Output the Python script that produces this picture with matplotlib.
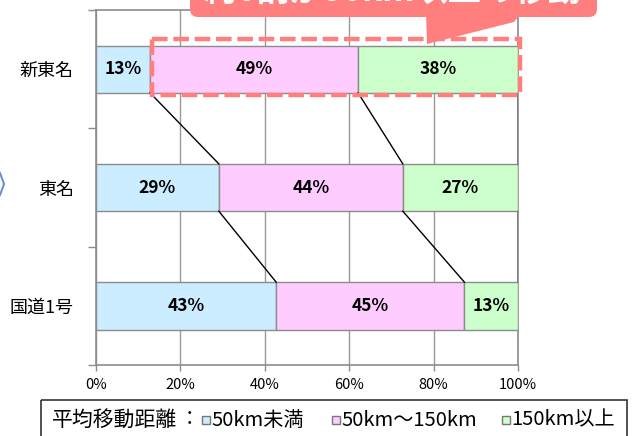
import matplotlib.pyplot as plt
import matplotlib.transforms as mtransforms
from matplotlib.patches import FancyBboxPatch, Polygon, Rectangle
import numpy as np

plt.rcParams['font.family'] = ['Noto Sans CJK JP', 'DejaVu Sans']

# data (bottom to top)
roads = ['国道1号', '東名', '新東名']
under_50 = [42.7, 29.1, 12.8]
mid_50_150 = [44.6, 43.6, 49.3]
over_150 = [12.7, 27.3, 37.9]
series_names = ['50km未満', '50km～150km', '150km以上']
series_colors = ['#CCECFF', '#FFCCFF', '#CCFFCC']
xticks = [0, 20, 40, 60, 80, 100]
legend_title = '平均移動距離'
callout_text = '約6割が50km以上の移動'

W, H = 644, 436
fig = plt.figure(figsize=(W / 100, H / 100), dpi=100)
ax = fig.add_axes([96 / W, 1 - 365 / H, 422 / W, 355 / H])

# pixel transform, origin top-left
pix = mtransforms.Affine2D().scale(1 / 100, -1 / 100).translate(0, H / 100) + fig.dpi_scale_trans

y = np.arange(len(roads))
bar_h = 0.40
left = np.zeros(len(roads))
cum = []
for vals, color in zip([under_50, mid_50_150, over_150], series_colors):
    vals = np.array(vals)
    ax.barh(y, vals, left=left, height=bar_h, color=color,
            edgecolor='#8c8c8c', linewidth=1, zorder=3)
    for yi, (l, v) in enumerate(zip(left, vals)):
        ax.text(l + v / 2, yi, f'{v:.0f}%', ha='center', va='center',
                fontsize=12.5, fontweight='bold', zorder=5)
    left = left + vals
    cum.append(left.copy())

# series lines between bars
for c in cum:
    for i in range(len(roads) - 1):
        ax.plot([c[i + 1], c[i]], [i + 1 - bar_h / 2, i + bar_h / 2],
                color='black', lw=1, zorder=4)

ax.set_xlim(0, 100)
ax.set_ylim(-0.5, len(roads) - 0.5)
ax.set_xticks(xticks)
ax.set_xticklabels([f'{t}%' for t in xticks], fontsize=10.5)
ax.set_yticks(y)
ax.set_yticklabels(roads, fontsize=13)
ax.set_yticks(np.arange(-0.5, len(roads), 1), minor=True)
ax.tick_params(axis='y', which='major', length=0, pad=16)
ax.tick_params(axis='y', which='minor', length=6, color='#8c8c8c', width=1)
ax.tick_params(axis='x', length=4, color='#8c8c8c', width=1, pad=5)
ax.grid(True, axis='x', color='#999999', lw=1, zorder=0)
for s in ax.spines.values():
    s.set_color('#8c8c8c')
    s.set_linewidth(1.2)

# dashed highlight around the >=50km part of 新東名
hl = Rectangle((152, 39), 368, 56, transform=pix, fill=False,
               edgecolor='#FF7F7F', lw=3.2, linestyle=(0, (3.5, 1.3)),
               zorder=6, clip_on=False)
fig.add_artist(hl)

# callout at top (cut by the picture edge, as in the source)
box = FancyBboxPatch((190, -40), 407, 57, boxstyle='round,pad=0,rounding_size=8',
                     transform=pix, facecolor='#FF7F7F', edgecolor='none', zorder=7)
fig.add_artist(box)
ptr = Polygon([(426, 12), (522, 12), (514, 22), (427, 44)], closed=True,
              transform=pix, facecolor='#FF7F7F', edgecolor='none', zorder=7)
fig.add_artist(ptr)
fig.text(393, -8, callout_text, transform=pix, ha='center', va='center',
         color='white', fontsize=24, fontweight='bold', zorder=8)

# legend box at bottom
lbox = Rectangle((41, 400), 586, 60, transform=pix, fill=False,
                 edgecolor='#333333', lw=1.2, zorder=6)
fig.add_artist(lbox)
fig.text(52, 420, legend_title, transform=pix, ha='left', va='center', fontsize=15)
fig.text(190, 420, '：', transform=pix, ha='center', va='center', fontsize=14)
sq_x = [202, 332, 502]
for sx, name, color in zip(sq_x, series_names, series_colors):
    fig.add_artist(Rectangle((sx, 416), 8, 8, transform=pix, facecolor=color,
                             edgecolor='#777777', lw=1))
    fig.text(sx + 9, 420, name, transform=pix, ha='left', va='center', fontsize=14.5)

# arrow fragment at left edge
fig.add_artist(plt.Line2D([0, 4, 0], [173, 184, 195], transform=pix,
                          color='#6D8FD6', lw=1.5))

fig.savefig('out.png', dpi=100)
